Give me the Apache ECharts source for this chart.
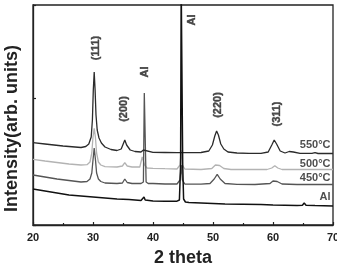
<!DOCTYPE html>
<html>
<head>
<meta charset="utf-8">
<script src="https://cdn.jsdelivr.net/npm/echarts@6/dist/echarts.min.js"></script>
<style>
html,body{margin:0;padding:0;background:#fff;}
#chart{width:337px;height:267px;}
</style>
</head>
<body>
<div id="chart"></div>
<script>
// 2-theta (deg) vs intensity (arb. units, offset stacked)
var xTicks = [20, 30, 40, 50, 60, 70];

var seriesAl = [[20,36],[21,35],[22,34],[24,32],[26,30],[28,29],[30,28],[32,27],[34,26],[36,25.5],[38,24.5],[38.3,25],[38.5,28],[38.7,25],[39,24.3],[40,24],[42,23.7],[44,23.8],[44.4,25],[44.6,60],[44.7,240],[44.85,240],[44.95,60],[45.1,26],[45.4,23],[46,22.5],[48,22],[50,21.5],[52,21],[55,20.8],[58,20.4],[60,20],[62,19.8],[64,19.6],[64.9,19.8],[65.2,22],[65.5,19.8],[67,19.4],[70,19]];

var series450 = [[20,50],[22,48],[24,46],[26,44.5],[28,43],[29,43.5],[29.5,46],[29.8,52],[30.0,65],[30.2,77],[30.4,66],[30.6,52],[30.9,46],[31.3,43.5],[32,42],[34,41.5],[34.9,42],[35.3,46],[35.7,42.5],[36.5,41.5],[38,41.5],[38.4,43],[38.55,132],[38.7,132],[38.85,43],[39.2,41.5],[40,41.5],[42,41],[44,41],[44.5,45],[44.7,60],[44.9,45],[45.3,41],[48,40.8],[49.5,41.5],[50.2,46],[50.7,50.7],[51.2,46],[52,41.5],[54,40.7],[57,40.5],[59.5,41.5],[60,44],[60.3,46],[60.7,43.5],[61.5,41],[64,40.5],[67,40.5],[70,40.5]];

var series500 = [[20,65.7],[22,64],[24,62.5],[26,61],[28,60],[29,60.3],[29.5,63],[29.8,72],[30.0,88],[30.2,96.7],[30.4,88],[30.6,72],[30.9,63],[31.3,60],[32,58.3],[34,58],[34.9,59],[35.3,62.3],[35.7,59],[36.5,58],[37.8,58],[38.0,60],[38.2,68],[38.4,68],[38.6,60],[39,57],[40,56.7],[42,56.3],[44,56],[44.5,60],[44.7,75],[44.9,60],[45.3,56],[48,55.5],[49.8,56.5],[50.4,60],[50.7,61.7],[51.1,59.5],[51.8,56.5],[53,55.5],[56,55.5],[59,55.5],[59.8,57],[60.3,59.3],[60.8,57],[61.5,55.5],[64,55.5],[67,55.5],[70,55.5]];

var series550 = [[20,82.3],[22,81],[25,79],[27,78],[28,77.5],[28.8,78.5],[29.3,81],[29.7,88],[29.9,105],[30.05,135],[30.2,153],[30.35,135],[30.5,110],[30.7,95],[31.0,87],[31.4,82],[32,78],[33,75.5],[34,74.5],[34.7,76],[35.1,82],[35.3,85],[35.6,80],[36.2,75],[37,73.5],[38,73],[38.4,75],[38.6,73],[40,72.7],[42,72.5],[44,72.3],[46,72.3],[48,72.5],[49.3,74],[49.9,80],[50.3,89],[50.6,94],[50.9,90],[51.3,81],[51.8,76],[52.5,73],[54,72],[56,71.7],[58,71.7],[59.2,73],[59.8,80],[60.2,85],[60.6,81],[61.2,74],[62,72],[62.7,73.5],[63,74.5],[63.4,73],[64.5,71.7],[66.5,71.7],[67,72.3],[67.5,71.5],[70,71.5]];

var peakLabels = [[30.57,177,'(111)'],[35.23,116,'(200)'],[38.6,153,'Al'],[46.5,205,'Al'],[50.9,120,'(220)'],[60.6,111,'(311)']];
var curveLabels = [[69.6,80,'550°C'],[69.6,61.5,'500°C'],[69.6,47,'450°C'],[69.6,28,'Al']];

var FONT = 'Liberation Sans, Arial, sans-serif';
var chart = echarts.init(document.getElementById('chart'), null, {renderer:'canvas'});

function lineSeries(name, data, color, w){
  return {name:name, type:'line', data:data, showSymbol:false, symbol:'none',
    lineStyle:{color:color, width:w}, silent:true, clip:true, z:2};
}

var option = {
  animation:false,
  backgroundColor:'#ffffff',
  grid:{left:33, right:4, top:5, bottom:42, outerBoundsMode:'none', containLabel:false,
    show:true, borderColor:'#222', borderWidth:1.3, backgroundColor:'transparent'},
  xAxis:{
    type:'value', min:xTicks[0], max:xTicks[xTicks.length-1], interval:10,
    name:'2 theta', nameLocation:'middle', nameGap:24,
    nameTextStyle:{fontFamily:FONT, fontWeight:'bold', fontSize:18, color:'#222'},
    axisLine:{show:true, onZero:false, lineStyle:{color:'#222', width:1.3}},
    axisTick:{show:true, inside:true, length:3, lineStyle:{color:'#222', width:1.2}},
    minorTick:{show:true, splitNumber:2, length:2, lineStyle:{color:'#222', width:1.2}},
    splitLine:{show:false},
    axisLabel:{fontFamily:FONT, fontWeight:'bold', fontSize:11, color:'#222', margin:7, hideOverlap:false}
  },
  yAxis:{
    type:'value', min:0, max:220, interval:127,
    axisLine:{show:true, lineStyle:{color:'#222', width:1.3}},
    axisTick:{show:true, inside:true, length:3, lineStyle:{color:'#222', width:1.2}},
    axisLabel:{show:false},
    splitLine:{show:false}
  },
  graphic:[{
    type:'text', rotation:Math.PI/2, x:12, y:128.5,
    style:{text:'Intensity(arb. units)', font:'bold 18px '+FONT, fill:'#222', align:'center', verticalAlign:'middle'}
  }],
  series:[
    lineSeries('500°C', series500, '#b3b3b3', 1.3),
    lineSeries('450°C', series450, '#555555', 1.3),
    lineSeries('550°C', series550, '#2b2b2b', 1.3),
    lineSeries('Al', seriesAl, '#111111', 1.5),
    {type:'scatter', data:peakLabels, symbolSize:0.1, itemStyle:{color:'rgba(0,0,0,0)'}, silent:true, z:5,
      label:{show:true, position:'inside', rotate:90, formatter:function(p){return p.data[2];},
        fontFamily:FONT, fontWeight:'bold', fontSize:11, color:'#222', textBorderColor:'#222', textBorderWidth:0.4}},
    {type:'scatter', data:curveLabels, symbolSize:0.1, itemStyle:{color:'rgba(0,0,0,0)'}, silent:true, z:5,
      label:{show:true, position:'left', distance:0, formatter:function(p){return p.data[2];},
        fontFamily:FONT, fontWeight:'bold', fontSize:11, color:'#222'}}
  ]
};
chart.setOption(option);
</script>
</body>
</html>
